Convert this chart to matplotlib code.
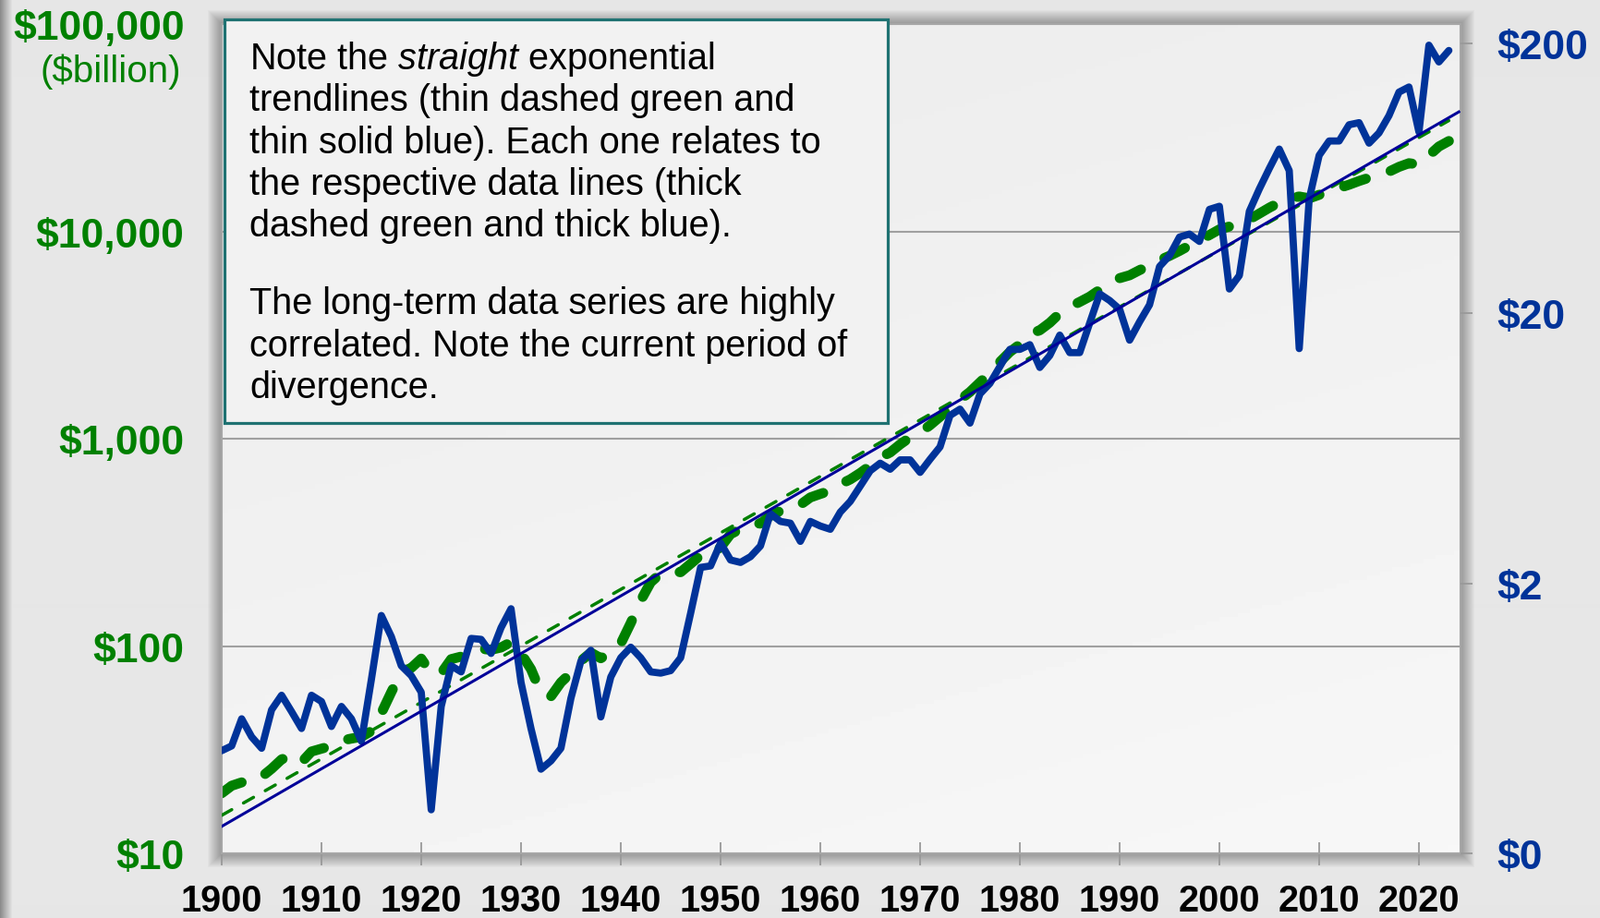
import numpy as np
import matplotlib
matplotlib.use('Agg')
import matplotlib.pyplot as plt
from matplotlib.patches import Rectangle
from matplotlib.ticker import FixedLocator, FixedFormatter, NullLocator

plt.rcParams['font.family'] = ['Liberation Sans', 'DejaVu Sans']
plt.rcParams['mathtext.fontset'] = 'custom'
plt.rcParams['mathtext.it'] = 'Liberation Sans:italic'
plt.rcParams['mathtext.rm'] = 'Liberation Sans'

years = np.arange(1900, 2024)

# nominal GDP, $billion (left axis)
gdp = [19.5, 21.2, 22.0, 23.4, 23.4, 25.6, 28.4, 29.6, 27.5, 31.0,
       32.0, 33.0, 35.0, 35.8, 36.5, 38.9, 47.5, 60.0, 75.0, 78.5,
       87.0, 74.0, 74.0, 86.5, 89.0, 93.0, 97.0, 96.0, 98.5, 104.6,
       92.2, 77.4, 59.5, 57.2, 66.8, 74.3, 84.9, 93.0, 87.4, 93.4,
       102.9, 129.3, 166.0, 203.1, 224.4, 228.0, 227.5, 249.6, 274.5, 272.5,
       299.8, 346.9, 367.3, 389.2, 390.5, 425.5, 449.4, 474.0, 481.2, 521.7,
       542.4, 562.2, 603.9, 637.5, 684.5, 742.3, 813.4, 860.0, 940.7, 1017.6,
       1073.3, 1164.9, 1279.1, 1425.4, 1545.2, 1684.9, 1873.4, 2081.8, 2351.6, 2627.3,
       2857.3, 3207.0, 3343.8, 3634.0, 4037.6, 4339.0, 4579.6, 4855.2, 5236.4, 5641.6,
       5963.1, 6158.1, 6520.3, 6858.6, 7287.2, 7639.7, 8073.1, 8577.6, 9062.8, 9631.2,
       10251, 10582, 10929, 11456, 12217, 13039, 13816, 14474, 14770, 14478,
       15049, 15600, 16254, 16843, 17551, 18206, 18695, 19477, 20533, 21381,
       21060, 23315, 25744, 27361]

# earnings per share, $ (right axis)
eps = [0.48, 0.50, 0.63, 0.54, 0.49, 0.68, 0.77, 0.67, 0.58, 0.77,
       0.73, 0.59, 0.70, 0.63, 0.52, 0.88, 1.52, 1.27, 0.99, 0.91,
       0.79, 0.29, 0.70, 0.99, 0.94, 1.25, 1.24, 1.10, 1.37, 1.61,
       0.86, 0.58, 0.41, 0.44, 0.49, 0.75, 1.03, 1.13, 0.64, 0.90,
       1.06, 1.16, 1.06, 0.94, 0.93, 0.95, 1.06, 1.55, 2.29, 2.32,
       2.82, 2.44, 2.39, 2.51, 2.75, 3.62, 3.39, 3.34, 2.86, 3.39,
       3.26, 3.17, 3.67, 4.02, 4.58, 5.22, 5.57, 5.29, 5.73, 5.73,
       5.15, 5.76, 6.40, 8.37, 8.83, 7.84, 10.05, 11.0, 12.7, 14.7,
       14.7, 15.3, 12.6, 13.95, 16.6, 14.3, 14.3, 18.4, 23.6, 22.3,
       20.7, 15.9, 18.6, 21.5, 29.8, 32.7, 38.3, 39.3, 36.9, 48.5,
       49.8, 24.6, 27.6, 47.7, 57.7, 68.7, 81.1, 67.5, 14.8, 53.0,
       76.9, 86.9, 86.9, 99.8, 101.6, 85.3, 93.1, 107.9, 131.8, 137.7,
       93.8, 196.7, 170.5, 188.0]

xticks = list(range(1900, 2021, 10))
left_ticks = [10, 100, 1000, 10000, 100000]
left_labels = ['$10', '$100', '$1,000', '$10,000', '$100,000']
right_ticks = [0.2, 2, 20, 200]
right_labels = ['$0', '$2', '$20', '$200']

note_lines = ['Note the $\\mathit{straight}$ exponential',
              'trendlines (thin dashed green and',
              'thin solid blue). Each one relates to',
              'the respective data lines (thick',
              'dashed green and thick blue).',
              'The long-term data series are highly',
              'correlated. Note the current period of',
              'divergence.']
note_base = [75, 120, 165.5, 211, 256, 340, 385.5, 431]

GREEN = '#008000'
BLUE = '#003399'
NAVY = '#000099'

W, H = 1733, 995
fig = plt.figure(figsize=(W / 100, H / 100), dpi=100)

# page background
bg = fig.add_axes([0, 0, 1, 1], zorder=-2)
col = np.full(W, 0.905)
col[:14] = np.linspace(0.55, 0.9, 14)
bg.imshow(col[None, :], cmap='gray', vmin=0, vmax=1, extent=[0, W, H, 0],
          aspect='auto', interpolation='bilinear')
L, R, T, B = 240, 1581, 27.4, 925
for i in range(1, 16):
    bg.add_patch(Rectangle((L - i, T - i), R - L + 2 * i, B - T + 2 * i,
                           facecolor='black', alpha=0.022, lw=0))
bg.set_xlim(0, W)
bg.set_ylim(H, 0)
bg.axis('off')

pos = [L / W, 1 - B / H, (R - L) / W, (B - T) / H]
pbg = fig.add_axes(pos, zorder=-1)
gx, gy = np.meshgrid(np.linspace(0, 1, 200), np.linspace(0, 1, 200))
pbg.imshow(0.922 + 0.047 * (0.3 * gx + 0.7 * gy), cmap='gray', vmin=0, vmax=1,
           aspect='auto', extent=[0, 1, 1, 0])
pbg.axis('off')

ax = fig.add_axes(pos, zorder=0)
ax.set_facecolor('none')
ax.set_yscale('log')
ax.set_xlim(1900, 1900 + (R - L) / 10.8)
ax.set_ylim(10, 100000)

gfit = np.polyfit(years, np.log10(gdp), 1)
ax.plot(years, gdp, color=GREEN, lw=7.8, dashes=(2.3, 2.6),
        dash_capstyle='round', solid_capstyle='round', zorder=2)
ax.plot(years, 10 ** np.polyval(gfit, years), color=GREEN, lw=2.5,
        dashes=(3.6, 4.2), dash_capstyle='round', zorder=3)

ax.yaxis.set_major_locator(FixedLocator(left_ticks))
ax.yaxis.set_major_formatter(FixedFormatter(left_labels))
ax.yaxis.set_minor_locator(NullLocator())
ax.grid(axis='y', color='#a0a0a0', lw=1.5)
ax.tick_params(axis='y', length=0, pad=29, labelsize=32, labelcolor=GREEN)
for t in ax.get_yticklabels():
    t.set_fontweight('bold')

ax.set_xticks(xticks)
ax.set_xticklabels([str(x) for x in xticks], fontweight='bold')
ax.tick_params(axis='x', direction='inout', length=18, width=1.3,
               color='#999999', pad=14, labelsize=28.5, labelcolor='black')
for s in ['left', 'right', 'top', 'bottom']:
    ax.spines[s].set_color('#a6a6a6')
    ax.spines[s].set_linewidth(1.5)

ax2 = ax.twinx()
ax2.set_yscale('log')
ax2.set_ylim(0.2, 0.2 * 10 ** ((B - T) / 292.4))
bfit = np.polyfit(years, np.log10(eps), 1)
yext = np.append(years, years[-1] + 1)
ax2.plot(years, eps, color=BLUE, lw=5.6, solid_joinstyle='round',
         solid_capstyle='round', zorder=3)
ax2.plot(yext, 10 ** np.polyval(bfit, yext), color=NAVY, lw=2.2, zorder=4)
ax2.yaxis.set_major_locator(FixedLocator(right_ticks))
ax2.yaxis.set_major_formatter(FixedFormatter(right_labels))
ax2.yaxis.set_minor_locator(NullLocator())
ax2.tick_params(axis='y', direction='out', length=9.5, width=1.3,
                color='#999999', pad=19, labelsize=32, labelcolor=BLUE)
for t in ax2.get_yticklabels():
    t.set_fontweight('bold')
for s in ['left', 'right', 'top', 'bottom']:
    ax2.spines[s].set_visible(False)

fig.text(196 / W, 1 - 78 / H, '($billion)', ha='right', va='center',
         color=GREEN, fontsize=29)

box = Rectangle((243 / W, 1 - 459 / H), (961 - 243) / W, (459 - 22) / H,
                transform=fig.transFigure, facecolor='#f2f2f2',
                edgecolor='#1f7272', lw=2.3, zorder=10)
fig.add_artist(box)
for s, yb in zip(note_lines, note_base):
    fig.text(270 / W, 1 - yb / H, s, fontsize=28.5, va='baseline',
             color='black', zorder=11)

fig.savefig('out.png', dpi=100)
